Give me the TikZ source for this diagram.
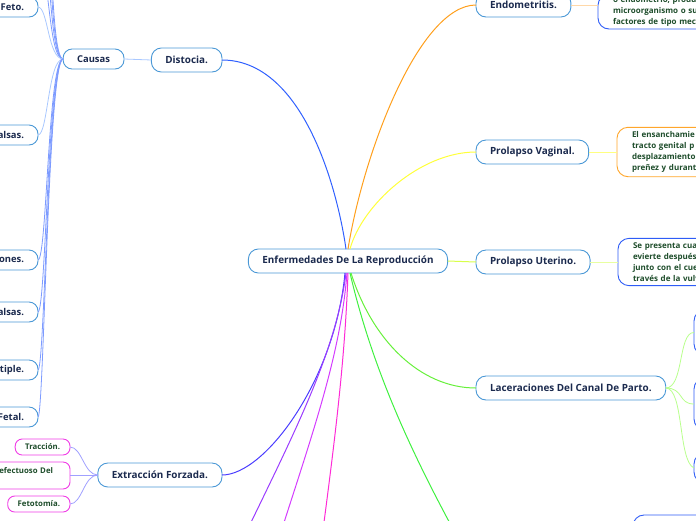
\documentclass[tikz,border=0pt]{standalone}
\usepackage{fontspec}
\setsansfont{Open Sans}
\usetikzlibrary{positioning}
\definecolor{mmInk}{HTML}{1B2A4E}
\definecolor{mmBorder}{HTML}{4A98D6}
\definecolor{mmGreen}{HTML}{1E4D2B}
\definecolor{mmDescBlue}{HTML}{2E5CF6}
\definecolor{mmDescOrange}{HTML}{FFA62B}
\definecolor{mmMagenta}{HTML}{F03CE6}
\definecolor{brBlue}{HTML}{3060FF}
\definecolor{brOrange}{HTML}{FF9F1C}
\definecolor{brYellow}{HTML}{FFFF3A}
\definecolor{brLime}{HTML}{D8FF4A}
\definecolor{brGreen}{HTML}{66F03A}
\definecolor{brGreenB}{HTML}{40F040}
\definecolor{brIndigo}{HTML}{4A3CFF}
\definecolor{brViolet}{HTML}{9B3CFF}
\definecolor{brMagenta}{HTML}{D43CFF}
\definecolor{brPink}{HTML}{FF2AD6}
\definecolor{subBlue}{HTML}{7D9BFF}
\definecolor{linkBlue}{HTML}{A9C8FF}
\definecolor{linkOrange}{HTML}{FFD8A8}
\definecolor{linkYellow}{HTML}{FFFF80}
\definecolor{linkLime}{HTML}{E8FFA0}
\definecolor{linkGreen}{HTML}{B8FF8C}
\definecolor{linkViolet}{HTML}{A0A0FF}

\begin{document}
\begin{tikzpicture}[
  x=1pt,y=-1pt,
  font=\sffamily\bfseries\fontsize{9.9}{12}\selectfont,
  every node/.style={text=mmInk,outer sep=0pt},
  topic/.style={draw=mmBorder,fill=white,line width=0.9pt,rounded corners=10pt,inner xsep=14pt,inner ysep=5pt,minimum height=24pt},
  cause/.style={topic,font=\sffamily\bfseries\fontsize{9.4}{11}\selectfont,rounded corners=9pt,inner ysep=4pt,minimum height=20pt},
  desc/.style={draw=mmDescBlue,fill=white,line width=0.9pt,rounded corners=11pt,text=mmGreen,align=left,text width=120,
    font=\sffamily\bfseries\fontsize{8}{10.8}\selectfont,inner xsep=15pt,inner ysep=4.5pt},
  subtopic/.style={draw=mmMagenta,fill=white,line width=0.9pt,rounded corners=7pt,text=mmGreen,minimum height=16pt,
    font=\sffamily\bfseries\fontsize{7.8}{9.5}\selectfont,inner xsep=10pt,inner ysep=3pt},
  branch/.style={line width=1pt},
  twig/.style={line width=0.8pt}
]
\path[use as bounding box] (0,0) rectangle (696,520);
\clip (0,0) rectangle (696,520);
% centre and right side
\node[topic] (root) at (348,261) {Enfermedades De La Reproducción};
\node[topic,anchor=west] (endo) at (476,5) {Endometritis.};
\node[topic,anchor=west] (vagi) at (476,152) {Prolapso Vaginal.};
\node[topic,anchor=west] (uter) at (476,262) {Prolapso Uterino.};
\node[topic,anchor=west] (lace) at (476,388) {Laceraciones Del Canal De Parto.};
\node[desc,anchor=south west,inner ysep=2.5pt] (endoDesc) at (598,29)
  {o endometrio, produ\\microorganismo o su\\factores de tipo mec};
\node[desc,draw=mmDescOrange,anchor=west] (vagiDesc) at (617,152)
  {El ensanchamie\\tracto genital p\\desplazamiento\\preñez y durant};
\node[desc,anchor=west] (uterDesc) at (618,262)
  {Se presenta cua\\evierte después\\junto con el cue\\través de la vulv};
\node[desc,anchor=north west,minimum height=45pt,text width=20] (laceA) at (694,310) {};
\node[desc,anchor=north west,minimum height=52pt,text width=20] (laceB) at (694,378) {};
\node[desc,anchor=north west,minimum height=30pt,text width=20] (laceC) at (694,453) {};
\node[desc,anchor=north west,minimum height=40pt,text width=60] (lowDesc) at (633,515) {};
% left side
\node[topic,anchor=east] (disto) at (222,60) {Distocia.};
\node[cause,anchor=east] (causas) at (124,59) {Causas};
\node[cause,anchor=east,text width=60,align=right] (feto) at (38,7) {Feto.};
\node[cause,anchor=east,text width=60,align=right] (falsasA) at (38,135) {alsas.};
\node[cause,anchor=east,text width=60,align=right] (presen) at (38,260) {ones.};
\node[cause,anchor=east,text width=60,align=right] (falsasB) at (38,312) {alsas.};
\node[cause,anchor=east,text width=60,align=right] (multi) at (38,370) {tiple.};
\node[cause,anchor=east,text width=60,align=right] (fetal) at (38,417) {Fetal.};
\coordinate (upA) at (38,-35);
\coordinate (upB) at (38,-75);
\coordinate (upC) at (38,-115);
\coordinate (upD) at (38,-155);
\node[topic,anchor=east] (extra) at (222,475) {Extracción Forzada.};
\node[subtopic,anchor=east] (trac) at (70,447) {Tracción.};
\node[subtopic,anchor=north east,text width=70,align=right,inner xsep=17pt,inner ysep=4pt,minimum height=27pt] (manejo) at (70,462)
  {efectuoso Del\\\mbox{}};
\node[subtopic,anchor=east] (fetoto) at (70,504) {Fetotomía.};
% loose ends below the frame
\coordinate (greenEnd) at (470,560);
\coordinate (violetEnd) at (233,560);
\coordinate (magentaEnd) at (272,560);
\coordinate (pinkEnd) at (319,560);
% branches from the centre
\draw[branch,draw=brBlue] (disto.east) .. controls (300,60) and (336,180) .. ([xshift=-2pt]root.north);
\draw[branch,draw=brOrange] (root.north) .. controls (364,150) and (420,5) .. (endo.west);
\draw[branch,draw=brYellow] ([xshift=2pt]root.north) .. controls (362,205) and (420,152) .. (vagi.west);
\draw[branch,draw=brLime] (root.east) -- (uter.west);
\draw[branch,draw=brGreen] ([xshift=3pt]root.south) .. controls (372,340) and (420,388) .. (lace.west);
\draw[branch,draw=brGreenB] ([xshift=2pt]root.south) .. controls (375,380) and (420,470) .. (greenEnd);
\draw[branch,draw=brIndigo] ([xshift=-3pt]root.south) .. controls (335,380) and (265,475) .. (extra.east);
\draw[branch,draw=brViolet] ([xshift=-2pt]root.south) .. controls (335,360) and (285,450) .. (violetEnd);
\draw[branch,draw=brMagenta] ([xshift=-1pt]root.south) .. controls (340,360) and (310,440) .. (magentaEnd);
\draw[branch,draw=brPink] (root.south) .. controls (345,360) and (335,440) .. (pinkEnd);
% links to descriptions
\draw[twig,draw=linkOrange] (endo.east) -- (endo.east -| endoDesc.west);
\draw[twig,draw=linkYellow] (vagi.east) -- (vagiDesc.west);
\draw[twig,draw=linkLime] (uter.east) -- (uterDesc.west);
\draw[twig,draw=linkGreen] (lace.east) .. controls (684,388) and (678,332) .. (laceA.west);
\draw[twig,draw=linkGreen] (lace.east) .. controls (684,388) and (678,404) .. (laceB.west);
\draw[twig,draw=linkGreen] (lace.east) .. controls (684,388) and (678,461) .. (laceC.west);
% causes of dystocia
\draw[twig,draw=linkBlue] (disto.west) -- (causas.east);
\draw[twig,draw=subBlue] (causas.west) .. controls (48,59) and (50,-35) .. (upA);
\draw[twig,draw=subBlue] (causas.west) .. controls (48,59) and (51,-75) .. (upB);
\draw[twig,draw=subBlue] (causas.west) .. controls (48,59) and (52,-115) .. (upC);
\draw[twig,draw=subBlue] (causas.west) .. controls (48,59) and (53,-155) .. (upD);
\draw[twig,draw=linkBlue] (causas.west) .. controls (48,59) and (48,7) .. (feto.east);
\draw[twig,draw=linkBlue] (causas.west) .. controls (48,59) and (48,135) .. (falsasA.east);
\draw[twig,draw=subBlue] (causas.west) .. controls (48,59) and (47,260) .. (presen.east);
\draw[twig,draw=subBlue] (causas.west) .. controls (48,59) and (46,312) .. (falsasB.east);
\draw[twig,draw=subBlue] (causas.west) .. controls (48,59) and (45,370) .. (multi.east);
\draw[twig,draw=subBlue] (causas.west) .. controls (48,59) and (44,417) .. (fetal.east);
% forced extraction
\draw[twig,draw=linkViolet] (extra.west) .. controls (84,475) and (82,447) .. (trac.east);
\draw[twig,draw=linkViolet] (extra.west) -- (manejo.east |- extra.west);
\draw[twig,draw=linkViolet] (extra.west) .. controls (84,475) and (82,504) .. (fetoto.east);
\end{tikzpicture}
\end{document}
